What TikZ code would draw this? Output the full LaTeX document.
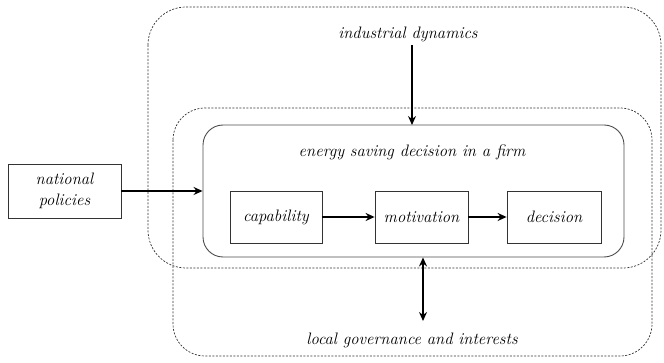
\documentclass[tikz,border=0pt]{standalone}
\usetikzlibrary{arrows.meta}
\begin{document}
\begin{tikzpicture}[x=1pt,y=-1pt,
  lbl/.style={font=\fontsize{16.6}{19}\selectfont\itshape, inner sep=0pt},
  dbox/.style={draw=black!80, dashed, dash pattern=on 2pt off 1.5pt, line width=0.7pt},
  fbox/.style={draw=black!70, line width=0.9pt, rounded corners=20pt},
  sbox/.style={draw=black!80, line width=0.8pt, lbl},
  arr/.style={-{Stealth[length=9pt,width=8pt,inset=3pt]}, line width=1.5pt},
  darr/.style={{Stealth[length=9pt,width=8pt,inset=3pt]}-{Stealth[length=9pt,width=8pt,inset=3pt]}, line width=1.5pt}]
\useasboundingbox (0,0) rectangle (664,363);
% dashed environments
\draw[dbox, rounded corners=38pt] (148,7) rectangle (661,268);
\draw[dbox, rounded corners=32pt] (173,108) rectangle (652,356);
% firm box
\node[fbox, minimum width=421pt, minimum height=132pt, inner sep=0pt] (firm) at (413.5,191) {};
\node[lbl] (title) at (412,152) {energy saving decision in a firm};
% inner boxes
\node[sbox, minimum width=92pt, minimum height=52pt] (cap) at (276,217) {capability};
\node[sbox, minimum width=93pt, minimum height=52pt] (mot) at (421.5,217) {motivation};
\node[sbox, minimum width=94pt, minimum height=52pt] (dec) at (554,217) {decision};
\node[sbox, minimum width=113pt, minimum height=54pt, align=center, font=\fontsize{16.6}{21}\selectfont\itshape] (nat) at (64.5,191) {national\\policies};
% labels
\node[lbl] (ind) at (408,34) {industrial dynamics};
\node[lbl] (loc) at (412,340) {local governance and interests};
% connectors
\coordinate (indbot) at (412,45);
\coordinate (firmtop) at (412,125);
\draw[arr] (indbot) -- (firmtop);
\draw[arr] (nat.east) -- (nat.east -| firm.west);
\draw[arr] (cap) -- (mot);
\draw[arr] (mot) -- (dec);
\coordinate (loctop) at (423,321);
\draw[darr] (loctop) -- (loctop |- firm.south);
\end{tikzpicture}
\end{document}
